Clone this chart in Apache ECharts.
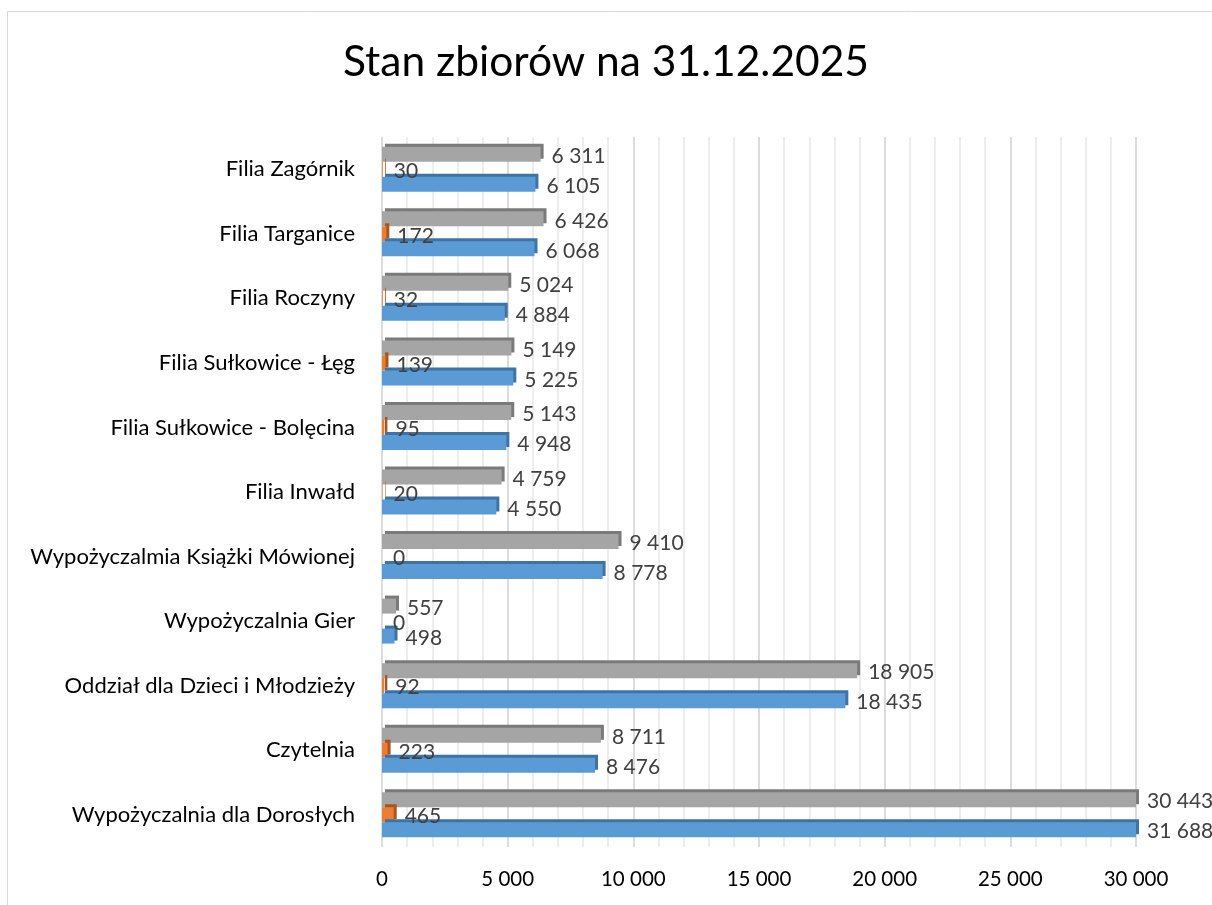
<!DOCTYPE html>
<html><head><meta charset="utf-8">
<script src="https://cdn.jsdelivr.net/npm/echarts@6/dist/echarts.min.js"></script>
<style>html,body{margin:0;padding:0;background:#fff}#c{width:1212px;height:905px}</style>
</head><body><div id="c"></div>
<script>
const titleText = 'Stan zbiorów na 31.12.2025';
const categories = ['Wypożyczalnia dla Dorosłych','Czytelnia','Oddział dla Dzieci i Młodzieży','Wypożyczalnia Gier','Wypożyczalmia Książki Mówionej','Filia Inwałd','Filia Sułkowice - Bolęcina','Filia Sułkowice - Łęg','Filia Roczyny','Filia Targanice','Filia Zagórnik'];
const blueValues = [31688, 8476, 18435, 498, 8778, 4550, 4948, 5225, 4884, 6068, 6105];
const orangeValues = [465, 223, 92, 0, 0, 20, 95, 139, 32, 172, 30];
const grayValues = [30443, 8711, 18905, 557, 9410, 4759, 5143, 5149, 5024, 6426, 6311];
const xTicks = [0, 5000, 10000, 15000, 20000, 25000, 30000];

const FONT = 'Lato';
function fmt(v){ return String(v).replace(/\B(?=(\d{3})+(?!\d))/g, ' '); }
function mk(name, data, color, shadow){
  return {
    name, type:'bar', data, barWidth:15, barGap:'0%', barCategoryGap:'30%',
    itemStyle:{color, shadowColor:shadow, shadowOffsetX:3, shadowOffsetY:-3, shadowBlur:0},
    label:{show:true, position:'right', distance:11, color:'#404040', fontFamily:FONT, fontSize:21,
      formatter:p=>fmt(p.value), offset:[0,2]}
  };
}
const chart = echarts.init(document.getElementById('c'), null, {renderer:'canvas'});
chart.setOption({
  backgroundColor:'#fff',
  animation:false,
  title:{text:titleText, left:'center', top:36, textStyle:{fontFamily:FONT, fontSize:42.5, fontWeight:'normal', color:'#000'}},
  graphic:[{type:'rect', shape:{x:7.5,y:11.5,width:1300,height:1000}, style:{fill:'none', stroke:'#d9d9d9', lineWidth:1}, silent:true, z:-10}],
  grid:{left:382, right:76, top:137, bottom:58},
  xAxis:{type:'value', min:xTicks[0], max:xTicks[xTicks.length-1], interval:5000,
    axisLine:{show:false}, axisTick:{show:false},
    axisLabel:{color:'#000', fontFamily:FONT, fontSize:20.5, margin:22, formatter:v=>fmt(v)},
    splitLine:{show:true, lineStyle:{color:'#d0d0d0', width:1.5}},
    minorTick:{show:false, splitNumber:5},
    minorSplitLine:{show:true, lineStyle:{color:'#e8e8e8', width:1.5}}
  },
  yAxis:{type:'category', data:categories,
    axisLine:{show:false}, axisTick:{show:false},
    axisLabel:{color:'#000', fontFamily:FONT, fontSize:22, margin:27}},
  series:[
    mk('Seria 3', grayValues, '#A5A5A5', '#7a7a7a'),
    mk('Seria 2', orangeValues, '#ED7D31', '#a8561f'),
    mk('Seria 1', blueValues, '#5B9BD5', '#3f73a3')
  ]
});
</script></body></html>
